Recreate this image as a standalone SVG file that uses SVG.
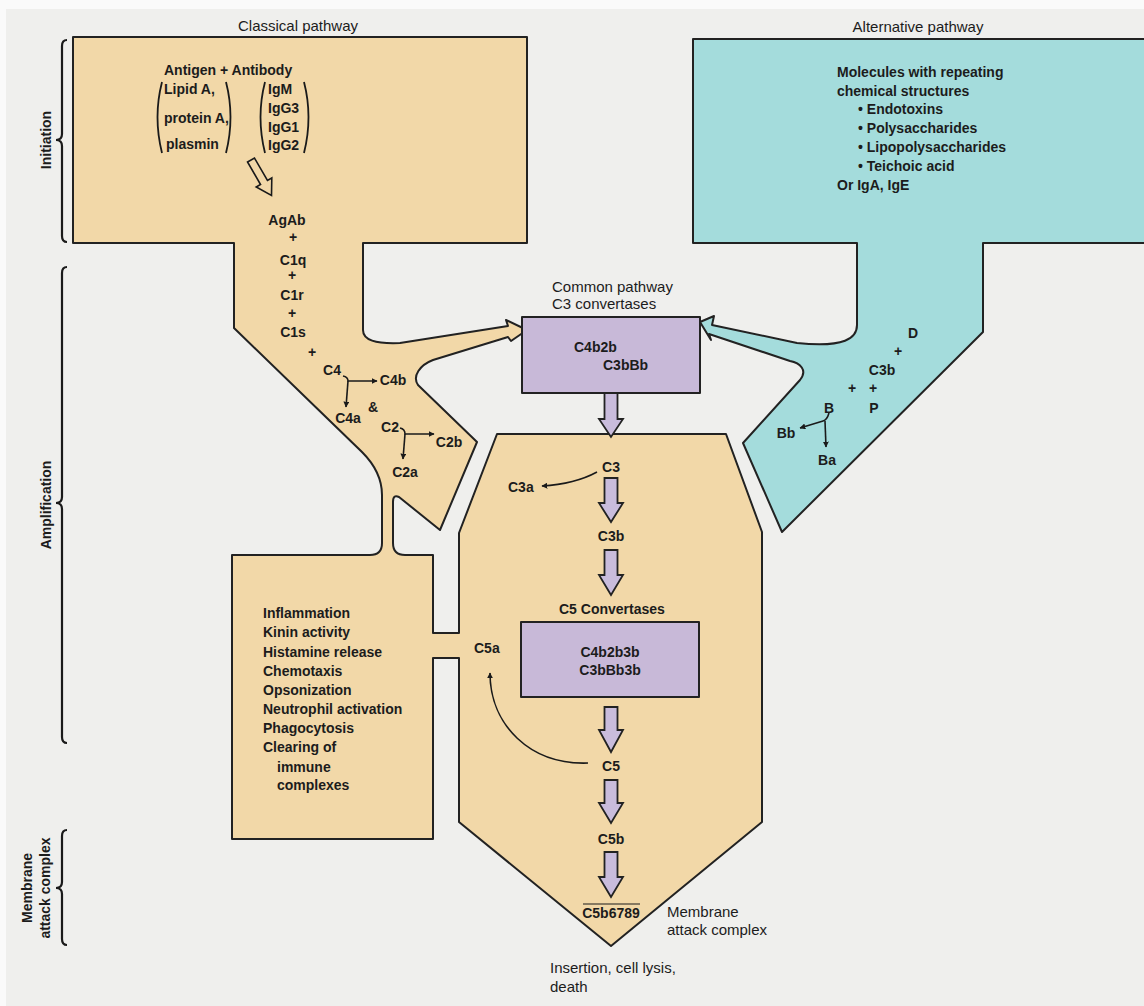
<svg xmlns="http://www.w3.org/2000/svg" width="1144" height="1006" viewBox="0 0 1144 1006">
<defs>
<marker id="ah" viewBox="0 0 10 10" refX="9" refY="5" markerWidth="6" markerHeight="6" orient="auto" markerUnits="userSpaceOnUse">
<path d="M0,0 L10,5 L0,10 Z" fill="#1a1a1a"/>
</marker>
<style>
.t{font-family:"Liberation Sans",Arial,sans-serif;font-size:14px;font-weight:bold;fill:#1c1c1c}
.r{font-family:"Liberation Sans",Arial,sans-serif;font-size:15px;font-weight:normal;fill:#1c1c1c}
.m{text-anchor:middle}
.sh{stroke:#222;stroke-width:2;stroke-linejoin:round}
.tan{fill:#f2d8a8}
.teal{fill:#a4dcdc}
.pur{fill:#c8b9d8}
.ba{fill:#c9bcdc;stroke:#222;stroke-width:1.8;stroke-linejoin:miter}
.ln{fill:none;stroke:#1a1a1a;stroke-width:1.6}
.br{fill:none;stroke:#1a1a1a;stroke-width:2.2}
.par{fill:none;stroke:#1a1a1a;stroke-width:1.8}
</style>
</defs>
<rect x="0" y="0" width="1144" height="1006" fill="#fafafa"/>
<rect x="6" y="9" width="1138" height="997" fill="#efefed"/>

<g id="classical-amplification-shape">
<path class="tan sh" d="M73,37 L527,37 L527,243 L363,243 L363,330 C363,340 375,344 400,343 L508,326 L506,320 L527,330 L511,341 L508,337 L433,360 C420,365 412,376 418,385 L477,442 L440,530 L399,497 Q393,494 393,502 L393,543 Q393,555 405,555 L433,555 L433,633 L459,633 L459,533 L497,434 L726,434 L762,532 L762,822 L611,946 L459,822 L459,658 L433,658 L433,839 L232,839 L232,555 L370,555 Q382,555 382,543 L382,495 Q382,472 362,452 L234,328 L234,243 L73,243 Z"/>
</g>

<g id="alternative-shape">
<path class="teal sh" d="M693,39 L1150,39 L1150,243 L983,243 L983,332 L782,532 L743,443 L800,380 C808,370 800,363 790,361 L709,334 L711,340 L700,322 L714,316 L712,325 L797,343 C845,348 857,338 857,325 L857,243 L693,243 Z"/>
</g>

<g id="c3-convertase-box">
<rect class="pur sh" x="522" y="317" width="178" height="76"/>
<text class="t" x="574" y="352">C4b2b</text>
<text class="t" x="603" y="370">C3bBb</text>
</g>

<g id="c5-convertase-box">
<rect class="pur sh" x="521" y="622" width="178" height="75"/>
<text class="t m" x="610" y="657">C4b2b3b</text>
<text class="t m" x="610" y="675">C3bBb3b</text>
</g>

<g id="connectors">
<path class="ba" d="M604.5,393 L617.5,393 L617.5,419 L623,419 L611,437 L599,419 L604.5,419 Z"/>
<path class="ba" d="M604.5,478 L617.5,478 L617.5,503 L623,503 L611,522 L599,503 L604.5,503 Z"/>
<path class="ba" d="M604.5,550 L617.5,550 L617.5,575 L623,575 L611,595 L599,575 L604.5,575 Z"/>
<path class="ba" d="M604.5,707 L617.5,707 L617.5,730 L623,730 L611,752 L599,730 L604.5,730 Z"/>
<path class="ba" d="M604.5,780 L617.5,780 L617.5,803 L623,803 L611,823 L599,803 L604.5,803 Z"/>
<path class="ba" d="M604.5,852 L617.5,852 L617.5,877 L623,877 L611,897 L599,877 L604.5,877 Z"/>
<path d="M-4,0 L4,0 L4,26 L9,26 L0,41 L-9,26 L-4,26 Z" transform="translate(251,160) rotate(-30)" fill="#f2d8a8" stroke="#1a1a1a" stroke-width="1.6"/>
<path class="ln" d="M343,376 Q348,377 348,381 L377,381" marker-end="url(#ah)"/>
<path class="ln" d="M348,381 L346,407" marker-end="url(#ah)"/>
<path class="ln" d="M400,428 Q405,429 405,434 L434,434" marker-end="url(#ah)"/>
<path class="ln" d="M405,434 L403,459" marker-end="url(#ah)"/>
<path class="ln" d="M829,413 Q827,420 823,421 L800,428" marker-end="url(#ah)"/>
<path class="ln" d="M825,421 L826,447" marker-end="url(#ah)"/>
<path class="ln" d="M597,472 Q575,484 542,486" marker-end="url(#ah)"/>
<path class="ln" d="M588,763 C530,765 490,725 490,673" marker-end="url(#ah)"/>
<path class="par" d="M162,82 Q153,117 162,153"/>
<path class="par" d="M226,82 Q235,117 226,153"/>
<path class="par" d="M265,82 Q256,117 265,153"/>
<path class="par" d="M304,82 Q313,117 304,153"/>
<line x1="583" y1="904" x2="640" y2="904" stroke="#1a1a1a" stroke-width="1.2"/>
</g>

<g id="classical-labels">
<text class="r m" x="298" y="31">Classical pathway</text>
<text class="t" x="164" y="75">Antigen + Antibody</text>
<text class="t" x="164" y="94">Lipid A,</text>
<text class="t" x="164" y="123">protein A,</text>
<text class="t" x="166" y="149">plasmin</text>
<text class="t" x="268" y="94">IgM</text>
<text class="t" x="268" y="113">IgG3</text>
<text class="t" x="268" y="132">IgG1</text>
<text class="t" x="268" y="150">IgG2</text>
<text class="t m" x="287" y="225">AgAb</text>
<text class="t m" x="293" y="242">+</text>
<text class="t m" x="293" y="265">C1q</text>
<text class="t m" x="292" y="280">+</text>
<text class="t m" x="292" y="300">C1r</text>
<text class="t m" x="292" y="318">+</text>
<text class="t m" x="293" y="337">C1s</text>
<text class="t m" x="312" y="357">+</text>
<text class="t m" x="332" y="375">C4</text>
<text class="t m" x="393" y="385">C4b</text>
<text class="t m" x="348" y="423">C4a</text>
<text class="t m" x="373" y="412">&amp;</text>
<text class="t m" x="390" y="432">C2</text>
<text class="t m" x="449" y="447">C2b</text>
<text class="t m" x="405" y="477">C2a</text>
</g>

<g id="alternative-labels">
<text class="r m" x="918" y="32">Alternative pathway</text>
<text class="t" x="837" y="77">Molecules with repeating</text>
<text class="t" x="837" y="96">chemical structures</text>
<text class="t" x="858" y="114">• Endotoxins</text>
<text class="t" x="858" y="133">• Polysaccharides</text>
<text class="t" x="858" y="152">• Lipopolysaccharides</text>
<text class="t" x="858" y="171">• Teichoic acid</text>
<text class="t" x="837" y="190">Or IgA, IgE</text>
<text class="t m" x="913" y="338">D</text>
<text class="t m" x="898" y="356">+</text>
<text class="t m" x="882" y="375">C3b</text>
<text class="t m" x="852" y="393">+</text>
<text class="t m" x="873" y="393">+</text>
<text class="t m" x="829" y="413">B</text>
<text class="t m" x="874" y="413">P</text>
<text class="t m" x="786" y="438">Bb</text>
<text class="t m" x="827" y="465">Ba</text>
</g>

<g id="common-labels">
<text class="r" x="552" y="292">Common pathway</text>
<text class="r" x="552" y="309">C3 convertases</text>
<text class="t m" x="611" y="472">C3</text>
<text class="t" x="508" y="492">C3a</text>
<text class="t m" x="611" y="541">C3b</text>
<text class="t" x="559" y="614">C5 Convertases</text>
<text class="t" x="474" y="653">C5a</text>
<text class="t m" x="611" y="771">C5</text>
<text class="t m" x="611" y="844">C5b</text>
<text class="t m" x="611" y="918">C5b6789</text>
<text class="r" x="667" y="917">Membrane</text>
<text class="r" x="667" y="935">attack complex</text>
<text class="r" x="550" y="973">Insertion, cell lysis,</text>
<text class="r" x="550" y="992">death</text>
</g>

<g id="effects-labels">
<text class="t" x="263" y="618">Inflammation</text>
<text class="t" x="263" y="637">Kinin activity</text>
<text class="t" x="263" y="657">Histamine release</text>
<text class="t" x="263" y="676">Chemotaxis</text>
<text class="t" x="263" y="695">Opsonization</text>
<text class="t" x="263" y="714">Neutrophil activation</text>
<text class="t" x="263" y="733">Phagocytosis</text>
<text class="t" x="263" y="752">Clearing of</text>
<text class="t" x="277" y="772">immune</text>
<text class="t" x="277" y="790">complexes</text>
</g>

<g id="stage-brackets">
<path class="br" d="M67,40 Q62,40 62,46 L62,134 Q62,140 56,140 Q62,140 62,146 L62,236 Q62,242 67,242"/>
<path class="br" d="M67,267 Q62,267 62,273 L62,497 Q62,503 56,503 Q62,503 62,509 L62,737 Q62,743 67,743"/>
<path class="br" d="M67,830 Q62,830 62,836 L62,882 Q62,888 56,888 Q62,888 62,894 L62,939 Q62,945 67,945"/>
<text class="t m" transform="translate(51,140) rotate(-90)">Initiation</text>
<text class="t m" transform="translate(51,505) rotate(-90)">Amplification</text>
<text class="t m" transform="translate(32,888) rotate(-90)">Membrane</text>
<text class="t m" transform="translate(50,888) rotate(-90)">attack complex</text>
</g>
</svg>
